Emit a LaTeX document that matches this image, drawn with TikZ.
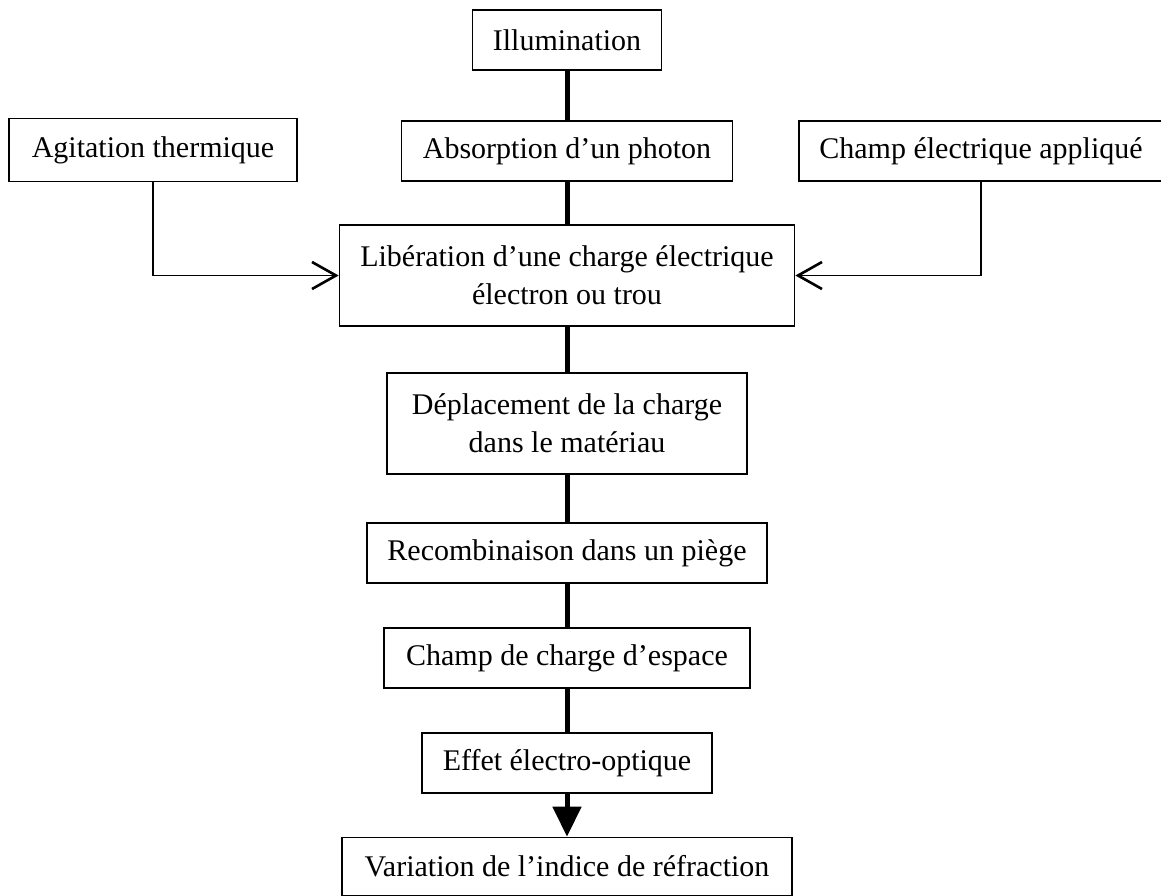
\documentclass[tikz,border=0pt]{standalone}
\usepackage{fontspec}
\setmainfont{Liberation Serif}
\usetikzlibrary{arrows.meta,positioning}

\begin{document}
\begin{tikzpicture}[x=0.5pt,y=-0.5pt,
    font=\fontsize{15}{19}\selectfont,
    etape/.style={draw,line width=0.85pt,align=center,inner sep=0pt,
                  minimum height=30pt},
    liaison/.style={line width=2.5pt},
    lateral/.style={line width=0.85pt,
                    -{Straight Barb[length=12pt,width=13.5pt,line width=1.3pt]}},
    finale/.style={line width=2.5pt,-{Triangle[length=15pt,width=14pt]}}]
  \useasboundingbox (0,0) rectangle (1161,895);
  % causes
  \node[etape,minimum width=94.5pt] (illum) at (567,40) {Illumination};
  \node[etape,minimum width=144pt,minimum height=31.5pt] (agit) at (153,150)
       {Agitation thermique};
  \node[etape,minimum width=165.5pt] (absorb) at (567,151) {Absorption d'un photon};
  \node[etape,minimum width=182pt] (champ) at (981,151) {Champ électrique appliqué};
  % chaine principale
  \node[etape,minimum width=227.5pt,minimum height=50.5pt] (lib) at (567,275.5)
       {Libération d'une charge électrique\\électron ou trou};
  \node[etape,minimum width=180pt,minimum height=50.5pt] (depl) at (567,423.5)
       {Déplacement de la charge\\dans le matériau};
  \node[etape,minimum width=200pt] (recomb) at (567,553) {Recombinaison dans un piège};
  \node[etape,minimum width=183pt] (espace) at (567,658) {Champ de charge d'espace};
  \node[etape,minimum width=145pt] (effet) at (567,763) {Effet électro-optique};
  \node[etape,minimum width=225pt,minimum height=29pt] (indice) at (567,866.5)
       {Variation de l'indice de réfraction};

  \draw[liaison] (illum) -- (absorb);
  \draw[liaison] (absorb) -- (lib);
  \draw[liaison] (lib) -- (depl);
  \draw[liaison] (depl) -- (recomb);
  \draw[liaison] (recomb) -- (espace);
  \draw[liaison] (espace) -- (effet);
  \draw[finale] (effet) -- (indice);

  \draw[lateral] (agit.south) |- (lib.west);
  \draw[lateral] (champ.south) |- (lib.east);
\end{tikzpicture}
\end{document}
